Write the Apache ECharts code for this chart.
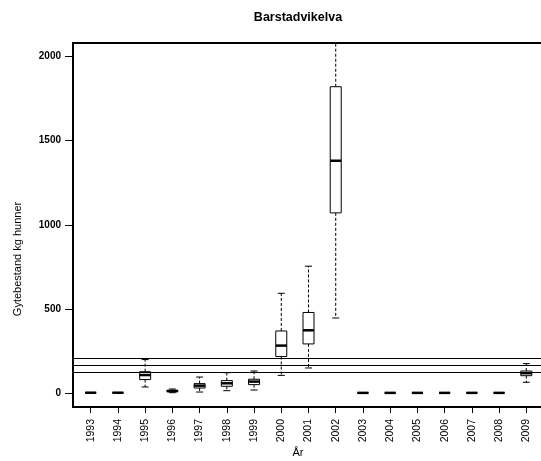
<!DOCTYPE html>
<html>
<head>
<meta charset="utf-8">
<script src="https://cdn.jsdelivr.net/npm/echarts@6/dist/echarts.min.js"></script>
<style>html,body{margin:0;padding:0;background:#fff;}#c{width:541px;height:461px;}</style>
</head>
<body>
<div id="c"></div>
<script>
const years   = ['1993','1994','1995','1996','1997','1998','1999','2000','2001','2002','2003','2004','2005','2006','2007','2008','2009'];
const wLow    = [2, 2, 36, 2, 6, 14, 18, 105, 149, 446, 1, 1, 1, 1, 1, 1, 64];
const q1      = [2, 2, 80, 8, 30, 40, 50, 217, 292, 1071, 1, 1, 1, 1, 1, 1, 103];
const median  = [2, 2, 107, 12, 44, 58, 68, 282, 373, 1381, 1, 1, 1, 1, 1, 1, 118];
const q3      = [2, 2, 127, 16, 56, 74, 82, 369, 479, 1821, 1, 1, 1, 1, 1, 1, 131];
const wHigh   = [2, 2, 199, 24, 95, 121, 131, 593, 754, 2400, 1, 1, 1, 1, 1, 1, 175];
const refLines = [121, 163, 205];
const yTicks = [0, 500, 1000, 1500, 2000];

const data = years.map((y, i) => [i + 1, wLow[i], q1[i], median[i], q3[i], wHigh[i]]);
const xPos = years.map((y, i) => i + 1);

const chart = echarts.init(document.getElementById('c'), null, {renderer: 'canvas'});
const FONT = 'Liberation Sans, Arial, sans-serif';

chart.setOption({
  animation: false,
  backgroundColor: '#fff',
  grid: {left: 73, top: 43, width: 471, height: 364, outerBoundsMode: 'none', containLabel: false,
         show: true, borderColor: '#000', borderWidth: 2, backgroundColor: 'transparent'},
  xAxis: {
    type: 'value', min: 0.35, max: 17.65,
    axisLine: {show: false, onZero: false},
    splitLine: {show: false},
    axisTick: {show: true, customValues: xPos, length: 6, lineStyle: {color: '#000', width: 1}},
    axisLabel: {
      customValues: xPos, rotate: 90, margin: 12,
      fontFamily: FONT, fontSize: 10.5, color: '#000',
      formatter: v => years[Math.round(v) - 1] || ''
    }
  },
  yAxis: {
    type: 'value', min: -83, max: 2081,
    axisLine: {show: false, onZero: false},
    splitLine: {show: false},
    axisTick: {show: true, customValues: yTicks, length: 8, lineStyle: {color: '#000', width: 1}},
    axisLabel: {customValues: yTicks, margin: 12, fontFamily: FONT, fontSize: 10, fontWeight: 'bold', color: '#000',
                formatter: v => String(v)}
  },
  graphic: [
    {type: 'text', x: 298, y: 18, style: {text: 'Barstadvikelva', font: 'bold 12.5px Liberation Sans, Arial, sans-serif', fill: '#000', textAlign: 'center', textVerticalAlign: 'middle'}},
    {type: 'text', x: 18, y: 259, rotation: Math.PI / 2, style: {text: 'Gytebestand kg hunner', font: '11px Liberation Sans, Arial, sans-serif', fill: '#000', textAlign: 'center', textVerticalAlign: 'middle'}},
    {type: 'text', x: 298, y: 453, style: {text: 'År', font: '11px Liberation Sans, Arial, sans-serif', fill: '#000', textAlign: 'center', textVerticalAlign: 'middle'}}
  ],
  series: [{
    type: 'custom',
    clip: true,
    data: data,
    encode: {x: 0, y: [1, 2, 3, 4, 5]},
    renderItem: function (params, api) {
      const x = api.value(0);
      const lo = api.coord([x, api.value(1)]);
      const b1 = api.coord([x, api.value(2)]);
      const md = api.coord([x, api.value(3)]);
      const b3 = api.coord([x, api.value(4)]);
      const hi = api.coord([x, api.value(5)]);
      const cx = lo[0];
      const half = 5.5, cap = 3.5;
      const dash = {stroke: '#000', lineWidth: 1, lineDash: [3, 2]};
      const solid = {stroke: '#000', lineWidth: 1};
      return {
        type: 'group',
        children: [
          {type: 'line', shape: {x1: cx, y1: b3[1], x2: cx, y2: hi[1]}, style: dash},
          {type: 'line', shape: {x1: cx, y1: b1[1], x2: cx, y2: lo[1]}, style: dash},
          {type: 'line', shape: {x1: cx - cap, y1: hi[1], x2: cx + cap, y2: hi[1]}, style: solid},
          {type: 'line', shape: {x1: cx - cap, y1: lo[1], x2: cx + cap, y2: lo[1]}, style: solid},
          {type: 'rect', shape: {x: cx - half, y: b3[1], width: half * 2, height: b1[1] - b3[1]}, style: {fill: '#fff', stroke: '#000', lineWidth: 1}},
          {type: 'line', shape: {x1: cx - half, y1: md[1], x2: cx + half, y2: md[1]}, style: {stroke: '#000', lineWidth: 2.5}}
        ]
      };
    },
    markLine: {
      silent: true,
      symbol: 'none',
      label: {show: false},
      lineStyle: {color: '#000', type: 'solid', width: 1},
      data: refLines.map(v => ({yAxis: v}))
    }
  }]
});
</script>
</body>
</html>
